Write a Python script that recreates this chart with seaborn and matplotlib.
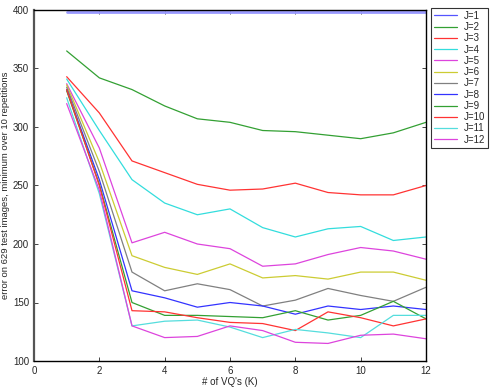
import numpy as np
import pandas as pd
import matplotlib
matplotlib.use("Agg")
import matplotlib.pyplot as plt
import seaborn as sns

# K = number of VQ's, one series per J
k_values = list(range(1, 13))
j_labels = ["J=%d" % j for j in range(1, 13)]

err_j1 = [398, 398, 398, 398, 398, 398, 398, 398, 398, 398, 398, 398]
err_j2 = [365, 342, 332, 318, 307, 304, 297, 296, 293, 290, 295, 304]
err_j3 = [343, 312, 271, 261, 251, 246, 247, 252, 244, 242, 242, 250]
err_j4 = [341, 297, 255, 235, 225, 230, 214, 206, 213, 215, 203, 206]
err_j5 = [337, 282, 201, 210, 200, 196, 181, 183, 191, 197, 194, 187]
err_j6 = [336, 270, 190, 180, 174, 183, 171, 173, 170, 176, 176, 169]
err_j7 = [334, 262, 176, 160, 166, 161, 147, 152, 162, 156, 151, 163]
err_j8 = [332, 255, 160, 154, 146, 150, 147, 140, 147, 144, 147, 144]
err_j9 = [331, 251, 150, 139, 139, 138, 137, 143, 135, 139, 151, 136]
err_j10 = [332, 250, 143, 142, 137, 133, 132, 126, 142, 137, 130, 136]
err_j11 = [325, 243, 130, 134, 135, 129, 120, 127, 124, 120, 139, 139]
err_j12 = [320, 246, 130, 120, 121, 130, 126, 116, 115, 122, 123, 119]

all_errs = [err_j1, err_j2, err_j3, err_j4, err_j5, err_j6,
            err_j7, err_j8, err_j9, err_j10, err_j11, err_j12]

rows = []
for label, errs in zip(j_labels, all_errs):
    for k, e in zip(k_values, errs):
        rows.append({"K": k, "err": e, "J": label})
df = pd.DataFrame(rows)

colors = ["#7777ff", "#33a033", "#ff3333", "#33dddd", "#dd44dd", "#cccc33",
          "#808080", "#3333ff", "#33a033", "#ff3333", "#55dddd", "#dd44dd"]
palette = dict(zip(j_labels, colors))

sns.set_style("ticks")
plt.rcParams["font.family"] = ["Liberation Sans", "DejaVu Sans"]

fig = plt.figure(figsize=(4.9, 3.88), dpi=100)
ax = fig.add_axes([34 / 490, 1 - 361 / 388, 392 / 490, 351 / 388])

sns.lineplot(data=df, x="K", y="err", hue="J", palette=palette,
             hue_order=j_labels, linewidth=0.9, ax=ax, legend=True)
# the J=1 line is drawn thicker and lighter in the original
ax.get_lines()[0].set_linewidth(2.0)
ax.get_lines()[0].set_color("#9999ff")

ax.set_xlim(0, 12)
ax.set_ylim(100, 400)
ax.set_xticks([0, 2, 4, 6, 8, 10, 12])
ax.set_yticks([100, 150, 200, 250, 300, 350, 400])
ax.tick_params(direction="in", top=True, right=True, labelsize=7, length=3, width=0.6)
ax.set_xlabel("# of VQ's (K)", fontsize=7, labelpad=1)
ax.set_ylabel("error on 629 test images, minimum over 10 repetitions", fontsize=6.8, labelpad=2)
for side in ["top", "right", "bottom"]:
    ax.spines[side].set_linewidth(1.0)
    ax.spines[side].set_color("black")
ax.spines["left"].set_linewidth(1.6)
ax.spines["left"].set_color("#555555")

leg = ax.legend(loc="upper left", bbox_to_anchor=(1.012, 1.006), fontsize=7,
                frameon=True, fancybox=False, edgecolor="black", handlelength=2.4,
                handletextpad=0.7, labelspacing=0.13, borderpad=0.3,
                borderaxespad=0.0)
leg.get_frame().set_linewidth(0.8)
leg.get_lines()[0].set_linewidth(0.9)
leg.get_lines()[0].set_color("#5555ff")

fig.savefig("out.png", dpi=100)
